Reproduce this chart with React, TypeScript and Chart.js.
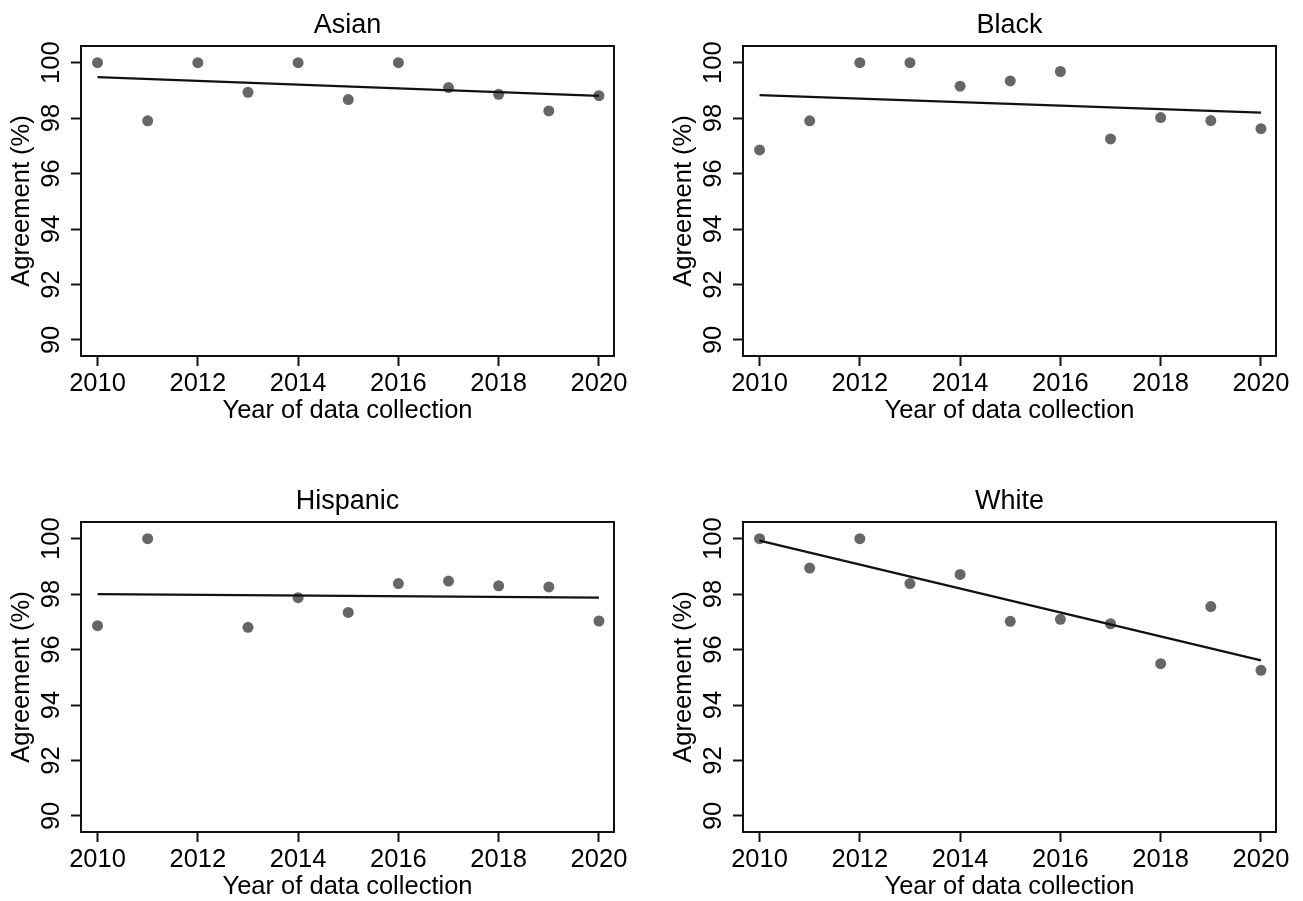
import React, { useEffect, useRef } from "react";
import { Chart, registerables } from "chart.js";

Chart.register(...registerables);

// ---- data ----
const years = [2010, 2011, 2012, 2013, 2014, 2015, 2016, 2017, 2018, 2019, 2020];
const asianValues = [100, 97.9, 100, 98.93, 100, 98.67, 100, 99.1, 98.86, 98.26, 98.81];
const blackValues = [96.85, 97.9, 100, 100, 99.15, 99.34, 99.68, 97.25, 98.02, 97.91, 97.62];
const hispanicValues = [96.86, 100, null, 96.8, 97.87, 97.34, 98.38, 98.47, 98.3, 98.26, 97.03];
const whiteValues = [100, 98.94, 100, 98.38, 98.71, 97.02, 97.09, 96.93, 95.49, 97.55, 95.25];

// fitted-line end values (2010, 2020)
const fitYears = [2010, 2020];
const asianFit = [99.48, 98.8];
const blackFit = [98.83, 98.2];
const hispanicFit = [98.0, 97.87];
const whiteFit = [99.93, 95.61];

const xTicks = [2010, 2012, 2014, 2016, 2018, 2020];
const yTicks = [90, 92, 94, 96, 98, 100];
const xRange = [2009.67, 2020.3];
const yRange = [89.42, 100.6];

const titles = ["Asian", "Black", "Hispanic", "White"];
const xTitle = "Year of data collection";
const yTitle = "Agreement (%)";

const FONT = "'Liberation Sans', Arial, Helvetica, sans-serif";

const boxPlugin = {
  id: "plotBox",
  afterDraw(chart: any) {
    const { ctx, chartArea } = chart;
    ctx.save();
    ctx.strokeStyle = "#111";
    ctx.lineWidth = 2;
    ctx.strokeRect(chartArea.left, chartArea.top, chartArea.right - chartArea.left, chartArea.bottom - chartArea.top);
    ctx.restore();
  },
};

type PanelProps = {
  title: string;
  values: (number | null)[];
  fit: number[];
  left: number;
  top: number;
  width: number;
  rightPad: number;
};

function Panel({ title, values, fit, left, top, width, rightPad }: PanelProps) {
  const ref = useRef<HTMLCanvasElement | null>(null);
  useEffect(() => {
    if (!ref.current) return;
    const points = years
      .map((x, i) => ({ x, y: values[i] }))
      .filter((p) => p.y !== null && p.y !== undefined);
    const line = fitYears.map((x, i) => ({ x, y: fit[i] }));
    const chart = new Chart(ref.current, {
      type: "scatter",
      data: {
        datasets: [
          {
            data: line,
            showLine: true,
            borderColor: "#111",
            borderWidth: 2.2,
            pointRadius: 0,
            fill: false,
          },
          {
            data: points as any,
            backgroundColor: "#666666",
            borderWidth: 0,
            pointRadius: 5.5,
          },
        ],
      },
      options: {
        animation: false,
        responsive: false,
        maintainAspectRatio: false,
        events: [],
        layout: { padding: { left: 0, right: rightPad, top: 0, bottom: 0 }, autoPadding: false },
        plugins: {
          legend: { display: false },
          tooltip: { enabled: false },
          title: {
            display: true,
            text: title,
            fullSize: false,
            color: "#000",
            font: { family: FONT, size: 27, weight: "normal" },
            padding: { top: 9.8, bottom: 3.8 },
          },
        },
        scales: {
          x: {
            type: "linear",
            min: xRange[0],
            max: xRange[1],
            afterBuildTicks: (s: any) => {
              s.ticks = xTicks.map((v) => ({ value: v }));
            },
            afterFit: (s: any) => {
              s.height = 80;
            },
            grid: {
              display: true,
              drawOnChartArea: false,
              drawTicks: true,
              tickLength: 10,
              tickWidth: 2,
              tickColor: "#111",
              color: "#111",
            },
            border: { display: false },
            ticks: {
              autoSkip: false,
              maxRotation: 0,
              minRotation: 0,
              padding: 3,
              color: "#000",
              font: { family: FONT, size: 25.5 },
              callback: (v: any) => String(v),
            },
            title: {
              display: true,
              text: xTitle,
              color: "#000",
              font: { family: FONT, size: 25.5 },
              padding: { top: 0, bottom: 9.7 },
            },
          },
          y: {
            type: "linear",
            min: yRange[0],
            max: yRange[1],
            afterBuildTicks: (s: any) => {
              s.ticks = yTicks.map((v) => ({ value: v }));
            },
            afterFit: (s: any) => {
              s.width = 81;
            },
            grid: {
              display: true,
              drawOnChartArea: false,
              drawTicks: true,
              tickLength: 10,
              tickWidth: 2,
              tickColor: "#111",
              color: "#111",
            },
            border: { display: false },
            ticks: {
              autoSkip: false,
              minRotation: 90,
              maxRotation: 90,
              crossAlign: "center",
              padding: -2,
              color: "#000",
              font: { family: FONT, size: 25.5 },
              callback: (v: any) => String(v),
            },
            title: {
              display: true,
              text: yTitle,
              color: "#000",
              font: { family: FONT, size: 25.5 },
              padding: { top: 7, bottom: 0 },
            },
          },
        },
      } as any,
      plugins: [boxPlugin],
    });
    return () => chart.destroy();
  }, [title, values, fit, rightPad]);

  return (
    <div style={{ position: "absolute", left, top, width, height: 436 }}>
      <canvas ref={ref} width={width} height={436} style={{ width, height: 436, display: "block" }} />
    </div>
  );
}

export default function App() {
  return (
    <div
      style={{
        position: "absolute",
        left: 0,
        top: 0,
        width: 1303,
        height: 901,
        overflow: "hidden",
        background: "#fff",
      }}
    >
      <Panel title={titles[0]} values={asianValues} fit={asianFit} left={0} top={0} width={662} rightPad={48} />
      <Panel title={titles[1]} values={blackValues} fit={blackFit} left={662} top={0} width={641} rightPad={27} />
      <Panel title={titles[2]} values={hispanicValues} fit={hispanicFit} left={0} top={476} width={662} rightPad={48} />
      <Panel title={titles[3]} values={whiteValues} fit={whiteFit} left={662} top={476} width={641} rightPad={27} />
    </div>
  );
}
